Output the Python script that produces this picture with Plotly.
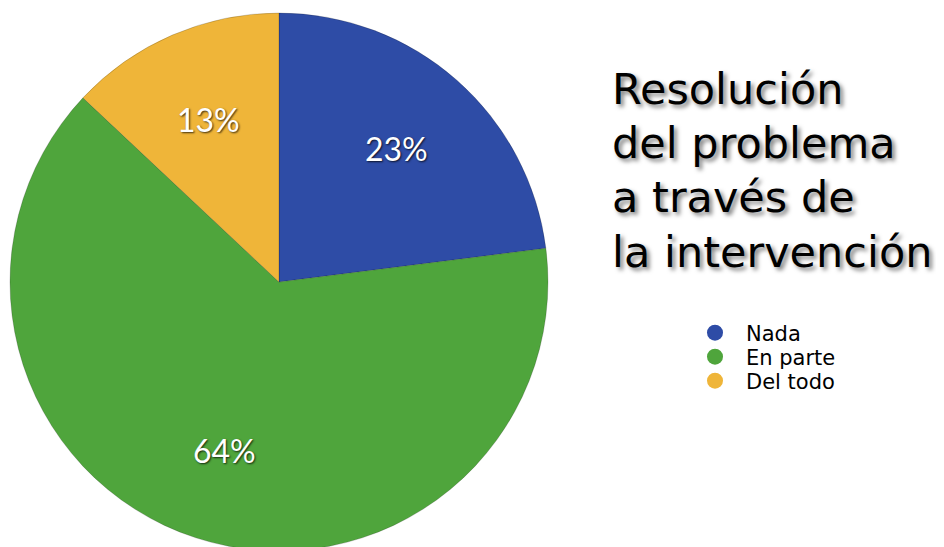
import math
import plotly.graph_objects as go

categories = ["Nada", "En parte", "Del todo"]
values = [23, 64, 13]
colors = ["#2e4ca6", "#4fa53c", "#efb539"]
title_lines = ["Resolución", "del problema", "a través de", "la intervención"]

W, H = 944, 547
# pie geometry in figure pixels (page has an 8px body margin)
CX, CY, R = 271, 274, 269
fig = go.Figure()

fig.add_trace(go.Pie(
    labels=categories,
    values=values,
    sort=False,
    direction="clockwise",
    rotation=0,
    marker=dict(colors=colors, line=dict(color="rgba(0,0,0,0.18)", width=1)),
    textinfo="none",
    showlegend=False,
    hoverinfo="label+percent",
    domain=dict(x=[(CX - R) / W, (CX + R) / W], y=[1 - (CY + R) / H, 1 - (CY - R) / H]),
))

# percentage labels at the middle angle of each slice
total = sum(values)
cum = 0
for v in values:
    mid = (cum + v / 2) / total * 2 * math.pi
    cum += v
    px = CX + 0.66 * R * math.sin(mid)
    py = CY - 0.66 * R * math.cos(mid)
    fig.add_annotation(
        text=f"{round(v / total * 100)}%", xref="paper", yref="paper",
        x=px / W, y=1 - py / H, xanchor="center", yanchor="middle", showarrow=False,
        font=dict(family="Lato", size=32, color="white",
                  shadow="1px 1px 2px rgba(0,0,0,0.75)"),
    )

legend_names = ["legend", "legend2", "legend3"]
legend_rows = [325, 349, 373]
for name, col, lg in zip(categories, colors, legend_names):
    fig.add_trace(go.Scatter(
        x=[None], y=[None], mode="markers", name=name, legend=lg,
        marker=dict(symbol="circle", size=17, color=col),
        showlegend=True,
    ))

title_mid = [81, 135, 189, 244]
for line, ym in zip(title_lines, title_mid):
    fig.add_annotation(
        text=line, xref="paper", yref="paper", x=602 / W, y=1 - ym / H,
        xanchor="left", yanchor="middle", align="left", showarrow=False,
        font=dict(family="DejaVu Sans", size=43, color="black",
                  shadow="3px 3px 4px rgba(0,0,0,0.5)"),
    )

leg_common = dict(xanchor="left", yanchor="middle",
                  font=dict(family="DejaVu Sans", size=21, color="black"),
                  itemwidth=52, itemsizing="trace", bgcolor="rgba(0,0,0,0)")
fig.update_layout(
    width=W, height=H,
    margin=dict(l=0, r=0, t=0, b=0),
    paper_bgcolor="white", plot_bgcolor="white",
    xaxis=dict(visible=False), yaxis=dict(visible=False),
    legend=dict(x=676 / W, y=1 - legend_rows[0] / H, **leg_common),
    legend2=dict(x=676 / W, y=1 - legend_rows[1] / H, **leg_common),
    legend3=dict(x=676 / W, y=1 - legend_rows[2] / H, **leg_common),
)

fig.write_html("out.html")
